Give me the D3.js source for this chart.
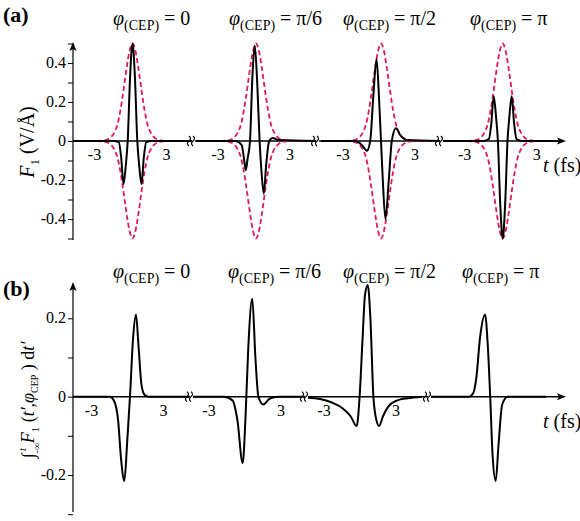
<!DOCTYPE html>
<html><head><meta charset="utf-8">
<script src="https://cdn.jsdelivr.net/npm/d3@7"></script>
<style>body{margin:0;background:#fff} svg text{font-family:"Liberation Serif","Times New Roman","DejaVu Serif",serif;fill:#000}</style>
</head><body>
<svg id="chart" width="580" height="521" font-family="Liberation Serif, DejaVu Serif, serif"></svg>
<script>
// titles / ticks
var phases = ["0", "π/6", "π/2", "π"];
var yTicksA = [-0.4, -0.2, 0, 0.2, 0.4];
var yTicksB = [-0.2, 0, 0.2];
var tTicks = [-3, 3];

// panel (a): field F1 (t in fs relative to pulse centre, value in V/Å)
var fieldP1 = [[-5,0],[-1.6,0],[-1.15,-0.005],[-0.95,-0.08],[-0.75,-0.22],[-0.55,-0.12],[-0.4,0],[-0.2,0.33],[0,0.5],[0.2,0.33],[0.4,0],[0.55,-0.12],[0.75,-0.22],[0.95,-0.08],[1.15,-0.005],[1.6,0],[5,0]];
var fieldP2 = [[-5,0],[-1.7,0],[-1.2,-0.02],[-1.0,-0.09],[-0.85,-0.15],[-0.7,-0.09],[-0.5,0],[-0.3,0.33],[-0.1,0.49],[0.1,0.3],[0.3,0],[0.45,-0.15],[0.65,-0.27],[0.85,-0.12],[1.1,0],[1.4,0.015],[1.9,0.005],[5,0]];
var fieldP3 = [[-5,0],[-2.2,0],[-1.6,-0.02],[-1.17,-0.05],[-0.9,0],[-0.65,0.22],[-0.37,0.42],[-0.15,0.2],[0,0],[0.15,-0.2],[0.37,-0.4],[0.65,-0.2],[0.9,0],[1.25,0.065],[1.6,0.03],[2.2,0.005],[5,0]];
var fieldP4 = [[-5,0],[-1.6,0],[-1.15,0.01],[-0.95,0.09],[-0.75,0.23],[-0.55,0.12],[-0.4,0],[-0.2,-0.33],[0,-0.5],[0.2,-0.33],[0.4,0],[0.55,0.12],[0.75,0.23],[0.95,0.09],[1.15,0.01],[1.6,0],[5,0]];
var envelope = [[-5,0],[-3,0],[-2.5,0.002],[-2,0.01],[-1.75,0.022],[-1.5,0.045],[-1.25,0.085],[-1,0.16],[-0.75,0.26],[-0.5,0.37],[-0.25,0.46],[0,0.5],[0.25,0.46],[0.5,0.37],[0.75,0.26],[1,0.16],[1.25,0.085],[1.5,0.045],[1.75,0.022],[2,0.01],[2.5,0.002],[3,0],[5,0]];

// panel (b): integrated field
var intP1 = [[-5,0],[-1.65,0],[-1.3,-0.01],[-0.95,-0.06],[-0.7,-0.16],[-0.43,-0.215],[-0.2,-0.12],[0.04,0],[0.3,0.15],[0.54,0.21],[0.75,0.13],[1.0,0.03],[1.25,0.005],[1.6,0],[5,0]];
var intP2 = [[-5,0],[-1.9,0],[-1.2,-0.01],[-0.8,-0.06],[-0.36,-0.17],[-0.12,-0.05],[0.1,0.12],[0.44,0.25],[0.7,0.1],[0.95,0],[1.36,-0.02],[1.9,-0.005],[2.6,0],[5,0]];
var intP3 = [[-5,-0.002],[-3.5,-0.006],[-2.5,-0.015],[-1.6,-0.03],[-0.95,-0.05],[-0.44,-0.075],[-0.2,0],[0.05,0.15],[0.25,0.26],[0.48,0.285],[0.7,0.2],[0.95,0],[1.2,-0.06],[1.42,-0.075],[1.75,-0.05],[2.2,-0.025],[2.9,-0.01],[3.8,-0.004],[5,0]];
var intP4 = [[-5,0],[-1.4,0],[-1.05,0.01],[-0.8,0.05],[-0.5,0.15],[-0.08,0.21],[0.15,0.13],[0.35,0],[0.55,-0.15],[0.81,-0.215],[1.05,-0.12],[1.35,-0.02],[1.8,0],[5,0]];

var pxPerFs = 12;
var axisX = 73, axisEnd = 566;
var svg = d3.select("#chart");
var red = "#e0195a";

function panel(cfg) {
  var g = svg.append("g");
  var y = d3.scaleLinear().domain(cfg.ydom).range(cfg.yrange);
  var y0 = y(0);
  // one x scale per broken-axis segment
  var segs = cfg.segs.map(function(s, i) {
    var x = d3.scaleLinear().domain([-1, 1]).range([s.c - pxPerFs, s.c + pxPerFs]);
    var id = cfg.name + "clip" + i;
    svg.append("clipPath").attr("id", id).append("rect")
      .attr("x", s.x0).attr("y", 0).attr("width", s.x1 - s.x0).attr("height", 521);
    return {x: x, clip: id, s: s};
  });
  segs.forEach(function(sg, i) {
    g.append("line").attr("x1", sg.s.x0).attr("x2", sg.s.x1).attr("y1", y0).attr("y2", y0)
      .attr("stroke", "#000").attr("stroke-width", 1.5);
    if (i > 0) {
      var bx = sg.s.x0 - 3;
      [-3, 1].forEach(function(dx) {
        g.append("path").attr("d", "M" + (bx + dx) + "," + (y0 - 5) + " q3,2.5 0,5 q-3,2.5 0,5")
          .attr("fill", "none").attr("stroke", "#000").attr("stroke-width", 1.2);
      });
    }
    if (!(cfg.name === "b" && i === 3)) {
      g.selectAll(null).data(tTicks).join("text")
        .attr("x", function(d) { return sg.x(d) + (d < 0 ? -2 : -2); })
        .attr("y", y0 + 19).attr("text-anchor", "middle").attr("font-size", 16)
        .text(function(d) { return d; });
    }
  });
  g.append("path").attr("d", "M" + axisEnd + "," + y0 + " l-9,-3.5 l2,3.5 l-2,3.5 z").attr("fill", "#000");
  // y axis
  var yAxis = d3.axisLeft(y).tickValues(cfg.minor).tickSize(5).tickFormat("");
  g.append("g").attr("transform", "translate(" + axisX + ",0)").call(yAxis)
    .call(function(a) { a.select(".domain").remove(); a.selectAll("line").attr("stroke-width", 1); });
  g.append("line").attr("x1", axisX).attr("x2", axisX).attr("y1", cfg.ytop + 6).attr("y2", cfg.ybot)
    .attr("stroke", "#000").attr("stroke-width", 1.2);
  g.append("path").attr("d", "M" + axisX + "," + cfg.ytop + " l-3.5,9 l3.5,-2 l3.5,2 z").attr("fill", "#000");
  g.selectAll(".yl").data(cfg.yticks).join("text")
    .attr("x", axisX - 7).attr("y", function(d) { return y(d) + 5; })
    .attr("text-anchor", "end").attr("font-size", 16)
    .text(function(d) { return d; });
  // curves
  var line = d3.line().x(function(d) { return d[0]; }).y(function(d) { return y(d[1]); }).curve(d3.curveMonotoneX);
  segs.forEach(function(sg, i) {
    var map = function(arr, sign) { return arr.map(function(p) { return [sg.x(p[0]), sign * p[1]]; }); };
    if (cfg.env) {
      [1, -1].forEach(function(sign) {
        g.append("path").attr("d", line(map(cfg.env, sign))).attr("clip-path", "url(#" + sg.clip + ")")
          .attr("fill", "none").attr("stroke", red).attr("stroke-width", 1.8).attr("stroke-dasharray", "5,3");
      });
    }
    g.append("path").attr("d", line(map(cfg.curves[i], 1))).attr("clip-path", "url(#" + sg.clip + ")")
      .attr("fill", "none").attr("stroke", "#000").attr("stroke-width", 2);
  });
  // phase titles
  cfg.titleX.forEach(function(tx, i) {
    var t = g.append("text").attr("x", tx).attr("y", cfg.titleY).attr("font-size", 20);
    t.append("tspan").attr("font-style", "italic").text("φ");
    t.append("tspan").attr("font-size", 14).attr("dy", 5).text("(CEP)");
    t.append("tspan").attr("dy", -5).text(" = " + phases[i]);
  });
  g.append("text").attr("x", 3).attr("y", cfg.letterY).attr("font-size", 22).attr("font-weight", "bold").text(cfg.letter);
  var tl = g.append("text").attr("x", 543).attr("y", y0 + 31).attr("font-size", 20);
  tl.append("tspan").attr("font-style", "italic").text("t");
  tl.append("tspan").text(" (fs)");
}

panel({
  name: "a", letter: "(a)", letterY: 22,
  ydom: [-0.5, 0.5], yrange: [238.5, 43.5], ytop: 42, ybot: 240,
  yticks: yTicksA, minor: d3.range(-5, 6).map(function(k) { return k / 10; }),
  segs: [{c: 132.5, x0: axisX, x1: 192}, {c: 256, x0: 195, x1: 316}, {c: 381, x0: 319, x1: 440}, {c: 502.7, x0: 443, x1: axisEnd - 4}],
  curves: [fieldP1, fieldP2, fieldP3, fieldP4], env: envelope,
  titleX: [113, 229, 343, 470], titleY: 25
});
panel({
  name: "b", letter: "(b)", letterY: 296,
  ydom: [-0.2, 0.2], yrange: [475, 318.3], ytop: 282, ybot: 512,
  yticks: yTicksB, minor: [-0.3, -0.2, -0.1, 0, 0.1, 0.2],
  segs: [{c: 129.5, x0: axisX, x1: 190}, {c: 247, x0: 193, x1: 305}, {c: 362, x0: 308, x1: 428}, {c: 486, x0: 431, x1: axisEnd - 4}],
  curves: [intP1, intP2, intP3, intP4], env: null,
  titleX: [113, 228, 343, 462], titleY: 278
});

// y labels
var la = svg.append("text").attr("transform", "translate(34,142) rotate(-90)").attr("text-anchor", "middle").attr("font-size", 20);
la.append("tspan").attr("font-style", "italic").text("F");
la.append("tspan").attr("font-size", 13).attr("dy", 5).text("1");
la.append("tspan").attr("dy", -5).text("  (V/Å)");
var lb = svg.append("text").attr("transform", "translate(34,400) rotate(-90)").attr("text-anchor", "middle").attr("font-size", 18);
lb.append("tspan").text("∫");
lb.append("tspan").attr("font-size", 10).attr("dy", 6).text("-∞");
lb.append("tspan").attr("font-size", 11).attr("font-style", "italic").attr("dy", -14).attr("dx", -8).text("t");
lb.append("tspan").attr("font-style", "italic").attr("dy", 8).text(" F");
lb.append("tspan").attr("font-size", 11).attr("dy", 5).text("1");
lb.append("tspan").attr("dy", -5).text("  (");
lb.append("tspan").attr("font-style", "italic").text("t′,φ");
lb.append("tspan").attr("font-size", 10).attr("dy", 4).text("CEP");
lb.append("tspan").attr("dy", -4).text(" ) d");
lb.append("tspan").attr("font-style", "italic").text("t′");
</script>
</body></html>
